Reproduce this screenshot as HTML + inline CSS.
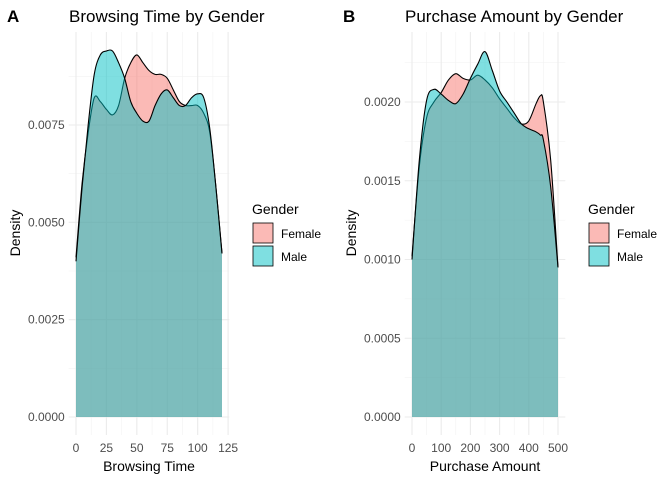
<!DOCTYPE html>
<html><head><meta charset="utf-8"><style>
body{margin:0;background:#fff;}
svg{font-family:"Liberation Sans",sans-serif;display:block}
</style></head><body>
<svg id="chart" width="672" height="480" viewBox="0 0 672 480"></svg>
<script>
const browseX=[0,5,10,15,20,25,30,35,40,45,50,55,60,65,70,75,80,85,90,95,100,105,110,115,120];
const browseFemale=[0.0041,0.0060,0.0073,0.0082,0.0081,0.0079,0.00776,0.0080,0.0087,0.0091,0.0093,0.0091,0.0089,0.0088,0.0088,0.0087,0.0084,0.0081,0.0080,0.0080,0.0080,0.0078,0.0073,0.0059,0.0042];
const browseMale=[0.0040,0.0059,0.0075,0.0088,0.0093,0.0094,0.0094,0.0091,0.0087,0.0081,0.0078,0.0076,0.0076,0.0080,0.0083,0.0084,0.0082,0.0080,0.0080,0.0082,0.0083,0.0082,0.0074,0.0059,0.0042];
const purchX=[0,25,50,75,100,125,150,175,200,225,250,275,300,325,350,375,400,425,440,450,475,500];
const purchFemale=[0.00102,0.00159,0.0019,0.0020,0.00206,0.00214,0.00218,0.00215,0.00214,0.00217,0.00214,0.00209,0.00202,0.00196,0.0019,0.00186,0.00188,0.00199,0.00204,0.0020,0.00163,0.00095];
const purchMale=[0.0010,0.00163,0.00201,0.00208,0.00205,0.00201,0.00199,0.00205,0.00215,0.00224,0.00232,0.0022,0.00207,0.0020,0.00193,0.00186,0.00183,0.00181,0.00179,0.00176,0.00146,0.00095];
const browseXTicks=[0,25,50,75,100,125];
const browseYTicks=["0.0000","0.0025","0.0050","0.0075"];
const purchXTicks=[0,100,200,300,400,500];
const purchYTicks=["0.0000","0.0005","0.0010","0.0015","0.0020"];

const NS="http://www.w3.org/2000/svg";
const svg=document.getElementById('chart');
function mk(tag,attrs,parent,text){const e=document.createElementNS(NS,tag);for(const k in attrs)e.setAttribute(k,attrs[k]);if(text!==undefined)e.textContent=text;(parent||svg).appendChild(e);return e;}
function smooth(pts){
  let d='M'+pts[0][0].toFixed(2)+','+pts[0][1].toFixed(2);
  for(let i=0;i<pts.length-1;i++){
    const p0=pts[Math.max(0,i-1)],p1=pts[i],p2=pts[i+1],p3=pts[Math.min(pts.length-1,i+2)];
    const c1=[p1[0]+(p2[0]-p0[0])/6,p1[1]+(p2[1]-p0[1])/6];
    const c2=[p2[0]-(p3[0]-p1[0])/6,p2[1]-(p3[1]-p1[1])/6];
    d+=' C'+c1[0].toFixed(2)+','+c1[1].toFixed(2)+' '+c2[0].toFixed(2)+','+c2[1].toFixed(2)+' '+p2[0].toFixed(2)+','+p2[1].toFixed(2);
  }
  return d;
}

function panel(o){
  const g=mk('g',{});
  
  
  const xs=v=>o.x0+(v-o.xmin)/(o.xmax-o.xmin)*(o.x1-o.x0);
  const ys=v=>o.yb-(v/o.ymaxTick)*(o.yb-o.yt);
  const left=o.x0-(o.x1-o.x0)*0.05, right=o.x1+(o.x1-o.x0)*0.05;
  const top=o.top, bottom=435;
  const xt=o.xticks.map(Number), step=xt[1]-xt[0];
  for(let i=0;i<xt.length-1;i++){const l=mk('line',{x1:xs(xt[i]+step/2),x2:xs(xt[i]+step/2),y1:top,y2:bottom,stroke:'#f2f2f2','stroke-width':0.6},g);}
  const yv=o.yticks.map(Number), ystep=yv[1]-yv[0];
  for(let i=0;i<yv.length;i++){const v=yv[i]+ystep/2;const y=ys(v);if(y<top)continue;const l=mk('line',{x1:left,x2:right,y1:y,y2:y,stroke:'#f2f2f2','stroke-width':0.6},g);}
  xt.forEach(v=>{const l=mk('line',{x1:xs(v),x2:xs(v),y1:top,y2:bottom,stroke:'#ebebeb','stroke-width':1.1},g);
    const t=mk('text',{x:xs(v),y:452,'text-anchor':'middle','font-size':12,fill:'#4d4d4d'},g,String(v));});
  o.yticks.forEach(s=>{const y=ys(Number(s));const l=mk('line',{x1:left,x2:right,y1:y,y2:y,stroke:'#ebebeb','stroke-width':1.1},g);
    const t=mk('text',{x:left-4,y:y+4,'text-anchor':'end','font-size':12,fill:'#4d4d4d'},g,s);});
  function area(xv,yvals,fill,nm){
    const pts=xv.map((x,i)=>[xs(x),ys(yvals[i])]);
    const line=smooth(pts);
    const d=line+' L'+xs(xv[xv.length-1])+','+ys(0)+' L'+xs(xv[0])+','+ys(0)+' Z';
    const p=mk('path',{d:d,fill:fill,'fill-opacity':0.5,stroke:'none'},g);
    
    const l=mk('path',{d:line,fill:'none',stroke:'#000','stroke-width':1.1,'stroke-linejoin':'round'},g);
    
  }
  area(o.xv,o.fem,'#F8766D','female-density');
  area(o.xv,o.male,'#00BFC4','male-density');
  const tag=mk('text',{x:o.ox+7,y:22,'font-size':17,'font-weight':'bold',fill:'#000'},g,o.tag);
  const ti=mk('text',{x:o.ox+69,y:22,'font-size':17,fill:'#000'},g,o.title);
  const xl=mk('text',{x:(o.x0+o.x1)/2,y:471,'text-anchor':'middle','font-size':14,fill:'#000'},g,o.xlabel);
  const yl=mk('text',{x:0,y:0,transform:'translate('+(o.ox+20)+',233) rotate(-90)','text-anchor':'middle','font-size':14,fill:'#000'},g,'Density');
  const lg=mk('g',{},g);
  const lt=mk('text',{x:o.ox+252,y:214,'font-size':14,fill:'#000'},lg,'Gender');
  [['Female','#F8766D',223],['Male','#00BFC4',246]].forEach(([n,c,y])=>{
    const r=mk('rect',{x:o.ox+253,y:y,width:20,height:20,fill:c,'fill-opacity':0.5,stroke:'#000','stroke-width':0.8},lg);
    const t=mk('text',{x:o.ox+281,y:y+15,'font-size':12,fill:'#000'},lg,n);
  });
}
panel({name:'browsing-time-panel',ox:0,x0:76,x1:222,xmin:0,xmax:120,yb:417,yt:125,ymaxTick:0.0075,top:32,
  xv:browseX,fem:browseFemale,male:browseMale,xticks:browseXTicks,yticks:browseYTicks,tag:'A',title:'Browsing Time by Gender',xlabel:'Browsing Time'});
panel({name:'purchase-amount-panel',ox:336,x0:412,x1:558,xmin:0,xmax:500,yb:417,yt:102,ymaxTick:0.0020,top:32,
  xv:purchX,fem:purchFemale,male:purchMale,xticks:purchXTicks,yticks:purchYTicks,tag:'B',title:'Purchase Amount by Gender',xlabel:'Purchase Amount'});
</script>
</body></html>
